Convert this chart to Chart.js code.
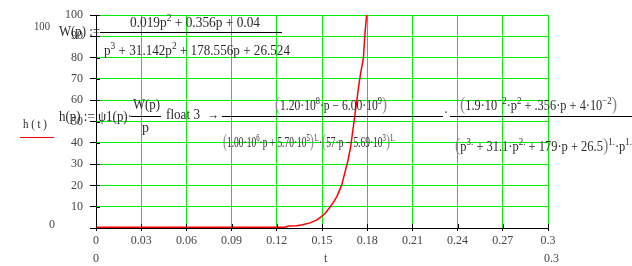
<!DOCTYPE html>
<html>
<head>
<meta charset="utf-8">
<script src="https://cdn.jsdelivr.net/npm/chart.js@4"></script>
<style>
  html, body { margin: 0; padding: 0; background: #fff; }
  #wrap { position: relative; width: 632px; height: 266px; overflow: hidden;
          font-family: "Liberation Serif", "DejaVu Serif", serif; color: #2a2a2a; }
  canvas { position: absolute; left: 0; top: 0; }
  .t { position: absolute; white-space: nowrap; font-size: 14px; line-height: 14px; transform-origin: 0 50%; }
  .t sup { font-size: 10px; vertical-align: 6px; line-height: 0; }
  .t .pr { font-size: 18px; color: #888; }
  .bar { position: absolute; height: 1px; background: #000; }
</style>
</head>
<body>
<div id="wrap">
  <canvas id="chart" width="632" height="266"></canvas>
</div>
<script>
// step response h(t)
const times = [0, 0.06, 0.12, 0.125, 0.128, 0.133, 0.137, 0.142, 0.146, 0.149, 0.152, 0.155, 0.158, 0.160,
               0.163, 0.165, 0.167, 0.169, 0.1705, 0.172, 0.1735, 0.175, 0.1765, 0.1775, 0.1785, 0.1795, 0.1805];
const hValues = [0.3, 0.3, 0.3, 0.4, 0.9, 1.1, 1.5, 2.4, 3.6, 5.0, 6.8, 9.5, 12.5, 15,
                 20, 25.5, 31, 38, 46, 54, 62, 70, 76, 80, 91, 99, 106];

const xTicks = [0, 0.03, 0.06, 0.09, 0.12, 0.15, 0.18, 0.21, 0.24, 0.27, 0.3];
const xTickLabels = ['0', '0.03', '0.06', '0.09', '0.12', '0.15', '0.18', '0.21', '0.24', '0.27', '0.3'];
const yTicks = [0, 10, 20, 30, 40, 50, 60, 70, 80, 90, 100];
const yTickLabels = ['', '10', '20', '30', '40', '50', '60', '70', '80', '90', '100'];

const green = 'rgb(0,240,0)';
const serif = '"Liberation Serif", "DejaVu Serif", serif';

// short black tick pieces that poke into the plot area
const innerTicks = {
    id: 'innerTicks',
    afterDraw(chart) {
        const ctx = chart.ctx, a = chart.chartArea;
        const xs = chart.scales.x, ys = chart.scales.y;
        ctx.save();
        ctx.strokeStyle = '#000';
        ctx.lineWidth = 1;
        ctx.beginPath();
        xTicks.forEach(v => {
            const px = Math.round(xs.getPixelForValue(v)) + 0.5;
            ctx.moveTo(px, a.bottom - 4);
            ctx.lineTo(px, a.bottom);
        });
        yTicks.forEach(v => {
            const py = Math.round(ys.getPixelForValue(v)) + 0.5;
            ctx.moveTo(a.left, py);
            ctx.lineTo(a.left + 4, py);
        });
        ctx.stroke();
        ctx.restore();
    }
};

new Chart(document.getElementById('chart'), {
    type: 'line',
    data: {
        datasets: [{
            label: 'h(t)',
            data: times.map((t, i) => ({ x: t, y: hValues[i] })),
            borderColor: '#ff0000',
            borderWidth: 1.5,
            pointRadius: 0,
            tension: 0,
            fill: false
        }]
    },
    options: {
        responsive: false,
        animation: false,
        devicePixelRatio: 1,
        layout: { padding: { top: 15, right: 84, left: 0, bottom: 0 } },
        plugins: { legend: { display: false }, tooltip: { enabled: false } },
        scales: {
            x: {
                type: 'linear',
                min: 0,
                max: 0.3,
                afterBuildTicks: s => { s.ticks = xTicks.map(v => ({ value: v })); },
                afterFit: s => { s.height = 38; },
                ticks: {
                    callback: (v, i) => xTickLabels[i],
                    font: { family: serif, size: 12 },
                    color: '#444',
                    padding: 3,
                    maxRotation: 0,
                    autoSkip: false
                },
                grid: { color: green, tickColor: '#000', tickLength: 3, lineWidth: 1 },
                border: { color: '#000', width: 1 }
            },
            y: {
                min: 0,
                max: 100,
                afterBuildTicks: s => { s.ticks = yTicks.map(v => ({ value: v })); },
                afterFit: s => { s.width = 96; },
                ticks: {
                    callback: (v, i) => yTickLabels[i],
                    font: { family: serif, size: 12 },
                    color: '#444',
                    padding: 7,
                    autoSkip: false
                },
                grid: { color: green, tickColor: '#000', tickLength: 6, lineWidth: 1 },
                border: { color: '#000', width: 1 }
            }
        }
    },
    plugins: [innerTicks]
});

// Mathcad worksheet text laid over the plot
const P = s => '<span class="pr">' + s + '</span>';
const texts = [
    { h: 'W(p) :=', x: 59, y: 32, w: 41 },
    { h: '0.019p<sup>2</sup> + 0.356p + 0.04', x: 130, y: 23, w: 130 },
    { h: 'p<sup>3</sup> + 31.142p<sup>2</sup> + 178.556p + 26.524', x: 104, y: 51, w: 186 },
    { h: 'h(p) := ψ1(p)·', x: 59, y: 117, w: 73 },
    { h: 'W(p)', x: 133, y: 105, w: 27 },
    { h: 'p', x: 142, y: 128, w: 7 },
    { h: 'float 3', x: 166, y: 115, w: 34 },
    { h: '→', x: 207, y: 115, w: 12 },
    { h: P('(') + '1.20·10<sup>8</sup>·p − 6.00·10<sup>9</sup>' + P(')'), x: 275, y: 104, w: 112 },
    { h: P('(') + '1.00·10<sup>6</sup>·p + 5.70·10<sup>5</sup>' + P(')') + '<sup>1.</sup>·' + P('(') + '57·p − 5.69·10<sup>3</sup>' + P(')') + '<sup>1.</sup>', x: 223, y: 141, w: 172 },
    { h: '·', x: 444, y: 113, w: 4 },
    { h: P('(') + '1.9·10<sup>−2</sup>·p<sup>2</sup> + .356·p + 4·10<sup>−2</sup>' + P(')'), x: 460, y: 104, w: 157 },
    { h: P('(') + 'p<sup>3.</sup> + 31.1·p<sup>2.</sup> + 179·p + 26.5' + P(')') + '<sup>1.</sup>·p<sup>1.</sup>', x: 455, y: 145, w: 177 },
    { h: 'h ( t )', x: 23, y: 123, w: 24, size: 13 },
    { h: '100', x: 34, y: 26, w: 16, size: 12, color: '#444' },
    { h: '0', x: 49, y: 224, size: 12, color: '#444' },
    { h: '0', x: 93, y: 258, size: 12, color: '#444' },
    { h: 't', x: 324, y: 258, size: 12, color: '#444' },
    { h: '0.3', x: 544, y: 258, size: 12, color: '#444' }
];
const bars = [
    { x: 100, y: 32, w: 182 },
    { x: 131, y: 116, w: 30 },
    { x: 222, y: 116, w: 221 },
    { x: 450, y: 116, w: 182 },
    { x: 20, y: 137, w: 34, color: '#ff0000' }
];

const wrap = document.getElementById('wrap');
texts.forEach(o => {
    const d = document.createElement('div');
    d.className = 't';
    d.innerHTML = o.h;
    const size = o.size || 14;
    d.style.fontSize = size + 'px';
    d.style.lineHeight = size + 'px';
    d.style.left = o.x + 'px';
    d.style.top = (o.y - size / 2) + 'px';
    if (o.color) d.style.color = o.color;
    wrap.appendChild(d);
    if (o.w) {
        const real = d.getBoundingClientRect().width;
        if (real > 0) d.style.transform = 'scaleX(' + (o.w / real) + ')';
    }
});
bars.forEach(b => {
    const d = document.createElement('div');
    d.className = 'bar';
    d.style.left = b.x + 'px';
    d.style.top = b.y + 'px';
    d.style.width = b.w + 'px';
    if (b.color) d.style.background = b.color;
    wrap.appendChild(d);
});
</script>
</body>
</html>
